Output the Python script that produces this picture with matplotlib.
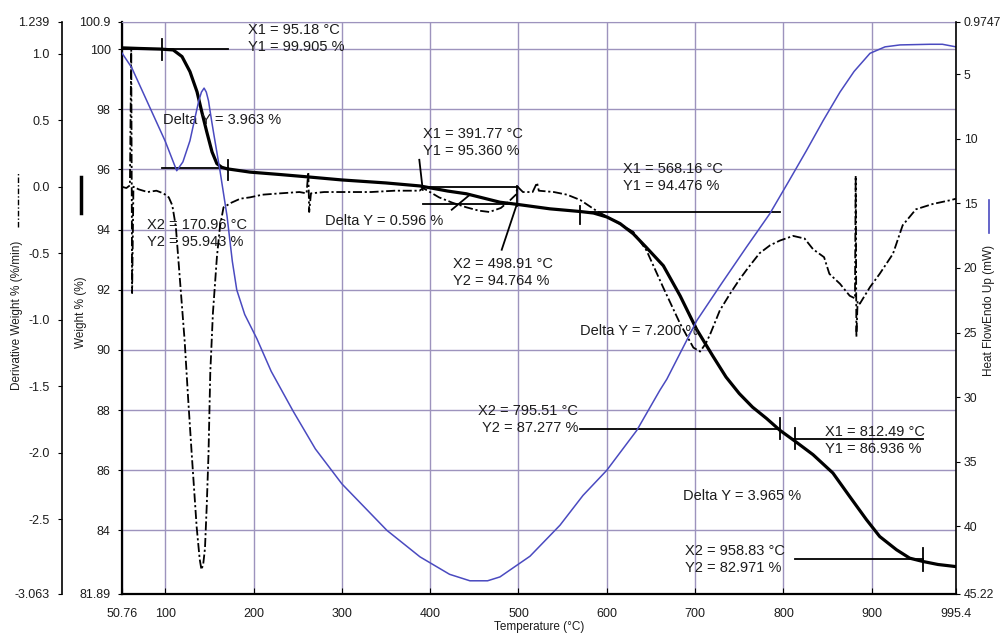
import matplotlib
matplotlib.use('Agg')
import matplotlib.pyplot as plt
from matplotlib.lines import Line2D

plt.rcParams['font.family'] = ['Liberation Sans', 'DejaVu Sans']

# curva de peso (TGA), % frente a temperatura
temp_w = [50.76, 70, 94, 109, 119, 128, 136, 141.5, 147, 153, 158.5, 164, 170,
          196, 230, 262, 300, 350, 388.5, 420, 441, 460, 479, 498, 535.6,
          570, 585, 600, 615, 630, 645, 664, 683, 701.6, 720, 735, 750, 765,
          781, 796, 813, 833.5, 856, 875, 894, 909, 928, 943, 958, 975, 995.4]
weight = [100.04, 100.02, 100.0, 99.97, 99.75, 99.25, 98.58, 97.9, 97.25,
          96.58, 96.19, 96.07, 96.02, 95.91, 95.83, 95.75, 95.65, 95.55, 95.45,
          95.28, 95.19, 95.05, 94.91, 94.84, 94.69, 94.6, 94.55, 94.42, 94.2,
          93.86, 93.4, 92.8, 91.8, 90.69, 89.8, 89.1, 88.55, 88.1, 87.72, 87.33,
          86.97, 86.52, 85.91, 85.13, 84.36, 83.8, 83.36, 83.08, 82.97, 82.87,
          82.8]

# derivada (DTG), %/min
temp_d = [50.76, 56, 60, 61.5, 62.5, 64, 70, 80, 90, 98, 104, 108, 112, 117,
          122, 126, 130, 135.6, 139, 141, 143, 145, 147, 149, 151, 154, 158.5,
          162, 166, 175, 185, 196, 210, 230, 252, 260, 262, 263, 265, 280, 300,
          333, 360, 388, 392, 410, 425, 441, 455, 467, 480, 490, 497, 499, 505,
          516, 521, 523, 540, 555, 570, 588, 607, 630, 645, 664, 683, 698,
          705.6, 712, 717, 728, 740, 750, 760, 773, 785, 796, 811, 824, 833.5,
          846, 852, 864, 875, 881, 881.8, 882.6, 884, 886.5, 892, 898, 909, 924,
          935, 950, 969, 990, 995.4]
deriv = [0.0, -0.01, 0.01, 1.03, -0.80, 0.0, -0.02, -0.04, -0.03, -0.05, -0.08,
         -0.14, -0.30, -0.73, -1.16, -1.6, -2.01, -2.56, -2.8, -2.88, -2.84,
         -2.72, -2.4, -2.01, -1.4, -0.95, -0.53, -0.3, -0.155, -0.12, -0.09,
         -0.08, -0.06, -0.05, -0.04, -0.05, 0.11, -0.19, -0.05, -0.04, -0.04,
         -0.04, -0.03, -0.03, -0.01, -0.08, -0.12, -0.155, -0.18, -0.19, -0.16,
         -0.105, -0.06, 0.0, -0.04, -0.04, 0.03, -0.03, -0.04, -0.06, -0.10,
         -0.18, -0.25, -0.34, -0.48, -0.76, -1.03, -1.21, -1.24, -1.18, -1.11,
         -0.93, -0.80, -0.70, -0.61, -0.50, -0.44, -0.405, -0.37, -0.39, -0.47,
         -0.53, -0.655, -0.73, -0.82, -0.84, 0.083, -1.13, -0.86, -0.88, -0.82,
         -0.755, -0.655, -0.505, -0.29, -0.17, -0.13, -0.10, -0.09]

# flujo de calor (DSC), mW, eje invertido
temp_h = [50.76, 62, 80, 100, 113, 120, 128, 133, 138, 141, 144, 146.5, 149,
          152, 155, 162, 170, 176, 181, 190, 203.8, 220, 245, 270, 300, 351,
          388.5, 422, 445, 465, 479, 513, 547, 573, 600, 634, 660, 668, 702,
          730, 758, 784.6, 806, 826, 845, 864, 880, 898, 915, 932, 966, 980,
          995.4]
heat = [3.35, 4.5, 7.2, 10.2, 12.48, 11.8, 10.16, 8.6, 7.07, 6.4, 6.09, 6.4,
        7.07, 8.4, 9.65, 12.48, 16.0, 19.5, 21.7, 23.6, 25.48, 28.0, 31.1, 34.0,
        36.7, 40.3, 42.35, 43.7, 44.2, 44.2, 43.9, 42.3, 39.9, 37.6, 35.65,
        32.56, 29.47, 28.6, 24.06, 21.2, 18.4, 15.8, 13.3, 10.93, 8.6, 6.4,
        4.8, 3.4, 2.9, 2.75, 2.7, 2.7, 2.9]

x_ticks = [50.76, 100, 200, 300, 400, 500, 600, 700, 800, 900, 995.4]
x_labels = ['50.76', '100', '200', '300', '400', '500', '600', '700', '800',
            '900', '995.4']
w_ticks = [81.89, 84, 86, 88, 90, 92, 94, 96, 98, 100, 100.9]
w_labels = ['81.89', '84', '86', '88', '90', '92', '94', '96', '98', '100',
            '100.9']
d_ticks = [-3.063, -2.5, -2.0, -1.5, -1.0, -0.5, 0.0, 0.5, 1.0, 1.239]
d_labels = ['-3.063', '-2.5', '-2.0', '-1.5', '-1.0', '-0.5', '0.0', '0.5',
            '1.0', '1.239']
h_ticks = [0.9747, 5, 10, 15, 20, 25, 30, 35, 40, 45.22]
h_labels = ['0.9747', '5', '10', '15', '20', '25', '30', '35', '40', '45.22']

# tangentes y marcas del analisis (temperatura, peso)
seg_t = [(51, 171.6), (96.3, 96.3), (96.3, 171.3), (171, 171),
         (387.7, 391.6), (390.4, 499.7), (392, 499.7), (497.9, 497.9),
         (497.9, 481), (424.4, 445), (569.6, 795.9), (569.6, 569.6),
         (569.6, 795.9), (795.9, 795.9), (811, 958), (812.8, 812.8),
         (812.8, 958), (958, 958)]
seg_w = [(100.0, 100.0), (100.35, 99.64), (96.04, 96.04), (96.3, 95.65),
         (96.32, 95.32), (95.43, 95.43), (94.85, 94.85), (95.44, 94.78),
         (94.82, 93.33), (94.66, 95.16), (94.58, 94.58), (94.77, 94.18),
         (87.38, 87.38), (87.74, 87.03), (87.05, 87.05), (87.41, 86.70),
         (83.05, 83.05), (83.43, 82.67)]

notas = [(193.9, 100.36, 'X1 = 95.18 °C\nY1 = 99.905 %', 'left'),
         (97.4, 97.64, 'Delta Y = 3.963 %', 'left'),
         (79.3, 93.88, 'X2 = 170.96 °C\nY2 = 95.943 %', 'left'),
         (392.3, 96.9, 'X1 = 391.77 °C\nY1 = 95.360 %', 'left'),
         (281, 94.29, 'Delta Y = 0.596 %', 'left'),
         (426.2, 92.57, 'X2 = 498.91 °C\nY2 = 94.764 %', 'left'),
         (618.6, 95.74, 'X1 = 568.16 °C\nY1 = 94.476 %', 'left'),
         (569.6, 90.62, 'Delta Y = 7.200 %', 'left'),
         (567.3, 87.70, 'X2 = 795.51 °C\nY2 = 87.277 %', 'right'),
         (846.8, 87.0, 'X1 = 812.49 °C\nY1 = 86.936 %', 'left'),
         (686.5, 85.15, 'Delta Y = 3.965 %', 'left'),
         (688.4, 83.04, 'X2 = 958.83 °C\nY2 = 82.971 %', 'left')]

rejilla = '#9d93bd'
azul = '#4a4ac0'
texto = '#1c1c1c'

fig = plt.figure(figsize=(10.02, 6.35), dpi=100)
ax = fig.add_axes([0.1215, 0.0646, 0.8326, 0.9008])
ax.set_xlim(50.76, 995.4)
ax.set_ylim(81.89, 100.9)
ax.set_xticks(x_ticks, x_labels)
ax.set_yticks(w_ticks, w_labels)
ax.grid(True, color=rejilla, lw=1.0)
ax.set_axisbelow(True)
ax.tick_params(axis='x', direction='in', length=4, pad=10, labelsize=9,
               labelcolor=texto)
ax.tick_params(axis='y', direction='out', length=3, pad=5, labelsize=9,
               labelcolor=texto)
ax.spines['left'].set_linewidth(1.6)
ax.spines['bottom'].set_linewidth(1.6)
ax.spines['top'].set_color(rejilla)
ax.spines['right'].set_visible(False)

ax.plot(temp_w, weight, color='black', lw=2.3, zorder=4)
for t, w in zip(seg_t, seg_w):
    ax.plot(t, w, color='black', lw=1.3, zorder=3)
for t, w, s, ha in notas:
    ax.text(t, w, s, ha=ha, va='center', fontsize=10.5, color=texto,
            linespacing=1.3, zorder=5)

# eje de la derivada, desplazado a la izquierda
ax2 = ax.twinx()
ax2.set_ylim(-3.063, 1.239)
ax2.spines['left'].set_position(('axes', -0.0716))
ax2.spines['left'].set_visible(True)
ax2.spines['left'].set_linewidth(1.2)
for lado in ['right', 'top', 'bottom']:
    ax2.spines[lado].set_visible(False)
ax2.yaxis.set_ticks_position('left')
ax2.yaxis.set_label_position('left')
ax2.set_yticks(d_ticks, d_labels)
ax2.tick_params(axis='y', direction='out', length=3, pad=6, labelsize=9,
                labelcolor=texto)
ax2.plot(temp_d, deriv, color='black', lw=1.3,
         linestyle=(0, (5, 1.5, 1.2, 1.5)), zorder=3)

# eje del flujo de calor, a la derecha e invertido
ax3 = ax.twinx()
ax3.set_ylim(45.22, 0.9747)
for lado in ['left', 'top', 'bottom']:
    ax3.spines[lado].set_visible(False)
ax3.spines['right'].set_linewidth(1.2)
ax3.set_yticks(h_ticks, h_labels)
ax3.tick_params(axis='y', direction='out', length=3, pad=2.5, labelsize=8.8,
                labelcolor=texto)
ax3.plot(temp_h, heat, color=azul, lw=1.1, zorder=2)

# etiquetas de los ejes con su simbolo de linea
H = 635.0
W = 1002.0
fig.text(539 / W, 1 - 627 / H, 'Temperature (°C)', ha='center', va='center',
         fontsize=8.5, color=texto)
fig.text(17 / W, 1 - 315 / H, 'Derivative Weight % (%/min)', rotation=90,
         ha='center', va='center', fontsize=8.5, color=texto)
fig.add_artist(Line2D([18 / W, 18 / W], [1 - 227 / H, 1 - 172 / H],
                      color='black', lw=1.0, linestyle=(0, (4, 1.5, 1, 1.5))))
fig.text(81 / W, 1 - 312 / H, 'Weight % (%)', rotation=90, ha='center',
         va='center', fontsize=8.5, color=texto)
fig.add_artist(Line2D([81 / W, 81 / W], [1 - 213 / H, 1 - 177 / H],
                      color='black', lw=2.5))
fig.text(989 / W, 1 - 310 / H, 'Heat FlowEndo Up (mW)', rotation=90,
         ha='center', va='center', fontsize=8.5, color=texto)
fig.add_artist(Line2D([989 / W, 989 / W], [1 - 233 / H, 1 - 200 / H],
                      color=azul, lw=1.2))

fig.savefig('out.png', dpi=100, facecolor='white')
